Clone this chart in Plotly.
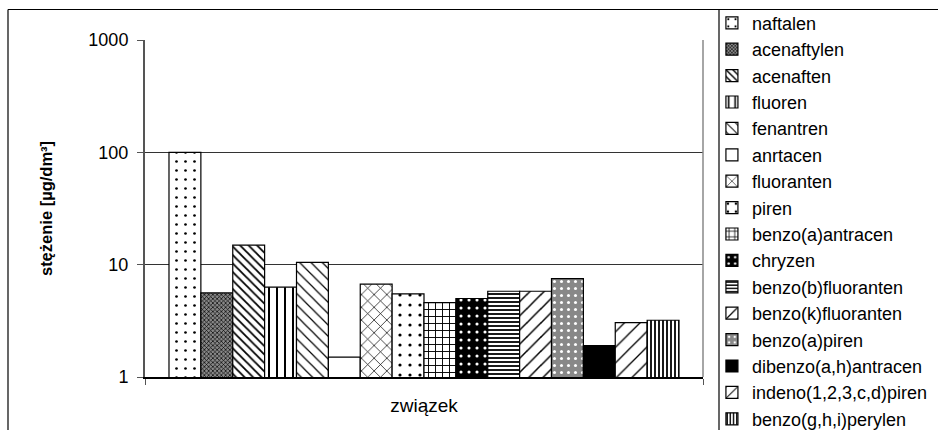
import plotly.graph_objects as go

compounds = ["naftalen", "acenaftylen", "acenaften", "fluoren", "fenantren", "anrtacen",
             "fluoranten", "piren", "benzo(a)antracen", "chryzen", "benzo(b)fluoranten",
             "benzo(k)fluoranten", "benzo(a)piren", "dibenzo(a,h)antracen",
             "indeno(1,2,3,c,d)piren", "benzo(g,h,i)perylen"]
values = [100, 5.6, 14.9, 6.3, 10.5, 1.5, 6.7, 5.5, 4.6, 5.0, 5.8, 5.8, 7.5, 1.9, 3.05, 3.2]
category = "związek"

# pattern styles per series: (shape, bgcolor, fgcolor, size, solidity)
styles = [
    (".", "white", "black", 9, 0.07),
    ("x", "#888888", "black", 3, 0.4),
    ("\\", "white", "black", 6, 0.3),
    ("|", "white", "black", 8, 0.25),
    ("\\", "white", "black", 8, 0.15),
    ("", "white", "black", 8, 0.2),
    ("x", "white", "black", 9, 0.15),
    (".", "white", "black", 10, 0.08),
    ("+", "white", "black", 7, 0.25),
    (".", "black", "white", 8, 0.12),
    ("-", "white", "black", 4, 0.45),
    ("/", "white", "black", 10, 0.15),
    (".", "#888888", "white", 7, 0.15),
    ("", "black", "black", 8, 0.2),
    ("/", "white", "black", 11, 0.12),
    ("|", "white", "black", 4, 0.45),
]

FONT = "Liberation Sans, Arial, sans-serif"

fig = go.Figure()
for name, v, (shape, bg, fg, sz, sol) in zip(compounds, values, styles):
    fig.add_trace(go.Bar(
        x=[category], y=[v], name=name,
        marker=dict(color=bg, line=dict(color="black", width=1.2),
                    pattern=dict(shape=shape, bgcolor=bg, fgcolor=fg, size=sz,
                                 solidity=sol, fillmode="replace")),
    ))

fig.update_layout(
    width=938, height=430,
    margin=dict(l=145, r=235, t=40, b=53, autoexpand=False),
    paper_bgcolor="white", plot_bgcolor="white",
    barmode="group", bargap=0.086, bargroupgap=0,
    font=dict(family=FONT, size=18, color="black"),
    showlegend=True,
    legend=dict(x=1.016, y=1.105, xanchor="left", yanchor="top",
                font=dict(size=18, family=FONT), maxheight=700,
                bgcolor="rgba(0,0,0,0)", traceorder="normal",
                itemclick=False, itemdoubleclick=False),
    xaxis=dict(type="category", showgrid=False, showline=True, linecolor="black",
               linewidth=1.5, ticks="outside", tickson="boundaries", ticklen=6,
               tickcolor="#555555", ticklabelstandoff=10,
               tickfont=dict(size=19, family=FONT)),
    yaxis=dict(type="log", range=[0, 3], tickvals=[1, 10, 100, 1000],
               ticktext=["1", "10", "100", "1000"],
               showgrid=True, gridcolor="#333333", gridwidth=1,
               showline=True, linecolor="#555555", linewidth=2,
               ticks="outside", ticklen=6, tickcolor="#555555",
               ticklabelstandoff=5,
               tickfont=dict(size=18, family=FONT),
               title=dict(text="<b>stężenie [µg/dm³]</b>", font=dict(size=16.5, family=FONT),
                          standoff=32),
               zeroline=False),
)

# plot-area right border (grey)
fig.add_shape(type="line", xref="paper", yref="paper", x0=1, x1=1, y0=0, y1=1,
              line=dict(color="#888888", width=1.5))
# outer chart frame and legend box
px_w, px_h = 558.0, 337.0
def xp(px):
    return (px - 145) / px_w
def yp(py):
    return (377 - py) / px_h
fig.add_shape(type="line", xref="paper", yref="paper", x0=xp(8), x1=xp(945), y0=yp(9.5), y1=yp(9.5),
              line=dict(color="black", width=1.2))
fig.add_shape(type="line", xref="paper", yref="paper", x0=xp(8), x1=xp(8), y0=yp(9.5), y1=yp(445),
              line=dict(color="black", width=1.2))
fig.add_shape(type="line", xref="paper", yref="paper", x0=xp(719), x1=xp(719), y0=yp(9.5), y1=yp(445),
              line=dict(color="black", width=1.2))

fig.write_html("out.html", config={"displayModeBar": False},
               post_script="document.body.style.margin='0px';")
